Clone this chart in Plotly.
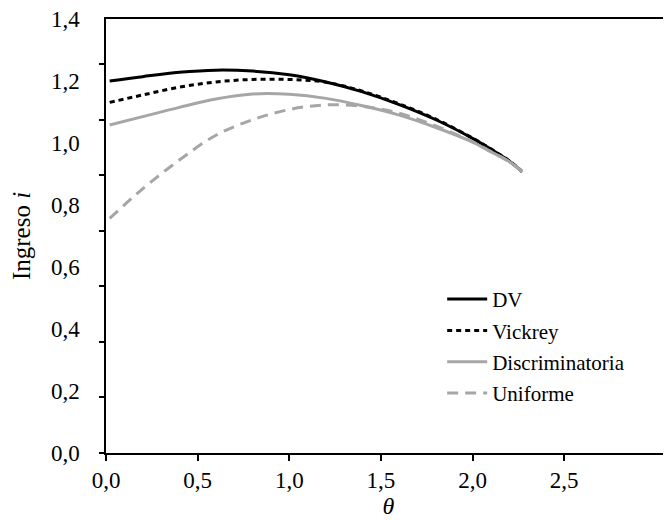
import plotly.graph_objects as go

# ---- data ----
theta = [0.02, 0.2, 0.4, 0.6, 0.8, 1.0, 1.2, 1.4, 1.6, 1.8, 2.0, 2.1, 2.2, 2.27]
dv = [1.200, 1.214, 1.228, 1.235, 1.232, 1.220, 1.197, 1.165, 1.124, 1.075, 1.015, 0.980, 0.942, 0.908]
vickrey = [1.131, 1.155, 1.180, 1.197, 1.205, 1.205, 1.196, 1.167, 1.126, 1.077, 1.016, 0.981, 0.943, 0.908]
discriminatoria = [1.058, 1.085, 1.115, 1.142, 1.158, 1.157, 1.144, 1.120, 1.090, 1.050, 1.003, 0.972, 0.940, 0.908]
uniforme = [0.757, 0.852, 0.945, 1.025, 1.075, 1.108, 1.123, 1.118, 1.096, 1.055, 1.004, 0.972, 0.940, 0.908]

x_tickvals = [0.0, 0.5, 1.0, 1.5, 2.0, 2.5]
x_ticktext = ["0,0", "0,5", "1,0", "1,5", "2,0", "2,5"]
y_tickvals = [0.0, 0.2, 0.4, 0.6, 0.8, 1.0, 1.2, 1.4]
y_ticktext = ["0,0", "0,2", "0,4", "0,6", "0,8", "1,0", "1,2", "1,4"]
y_tickmarks = [0, 1, 2, 3, 4, 5, 6, 7]

FONT = "Liberation Serif"
GRAY = "#a6a6a6"

fig = go.Figure()
fig.add_trace(go.Scatter(x=theta, y=dv, name="DV", legendgroup="a", mode="lines", line_shape="spline",
                         line=dict(color="black", width=3)))
fig.add_trace(go.Scatter(x=theta, y=vickrey, name="Vickrey", legendgroup="b", mode="lines", line_shape="spline",
                         line=dict(color="black", width=3, dash="5px,4px")))
fig.add_trace(go.Scatter(x=theta, y=discriminatoria, name="Discriminatoria", legendgroup="c", mode="lines",
                         line_shape="spline", line=dict(color=GRAY, width=3)))
fig.add_trace(go.Scatter(x=theta, y=uniforme, name="Uniforme", legendgroup="d", mode="lines", line_shape="spline",
                         line=dict(color=GRAY, width=3, dash="11px,7px")))
# invisible trace so the tick-mark overlay axis is drawn
fig.add_trace(go.Scatter(x=[None], y=[None], yaxis="y2", showlegend=False, hoverinfo="skip"))

fig.update_layout(
    width=663, height=512,
    margin=dict(l=98, r=0, t=11, b=67, autoexpand=False),
    paper_bgcolor="white", plot_bgcolor="white",
    font=dict(family=FONT, size=23, color="black"),
    showlegend=True,
    legend=dict(x=0.595, y=0.401, xanchor="left", yanchor="top",
                font=dict(family=FONT, size=21, color="black"),
                bgcolor="rgba(0,0,0,0)", tracegroupgap=1, itemwidth=40),
    xaxis=dict(range=[0, 3.083], tickvals=x_tickvals, ticktext=x_ticktext,
               showline=True, linecolor="black", linewidth=1.5, mirror=True,
               ticks="outside", ticklen=6, tickwidth=1.5, tickcolor="black",
               showgrid=False, zeroline=False, automargin=False,
               title=dict(text="<i>θ</i>", standoff=4, font=dict(size=24))),
    yaxis=dict(range=[0, 1.4], tickvals=y_tickvals, ticktext=y_ticktext,
               showline=True, linecolor="black", linewidth=1.5, mirror=False,
               ticks="", ticklabelstandoff=20, ticklabeloverflow="allow",
               showgrid=False, zeroline=False, automargin=False,
               title=dict(text="Ingreso <i>i</i>", standoff=23, font=dict(size=25))),
    yaxis2=dict(overlaying="y", side="left", range=[0, 7.81], tickvals=y_tickmarks,
                showticklabels=False, ticks="outside", ticklen=6, tickwidth=1.5, tickcolor="black",
                showline=False, showgrid=False, zeroline=False, automargin=False),
)

fig.write_html("out.html")
